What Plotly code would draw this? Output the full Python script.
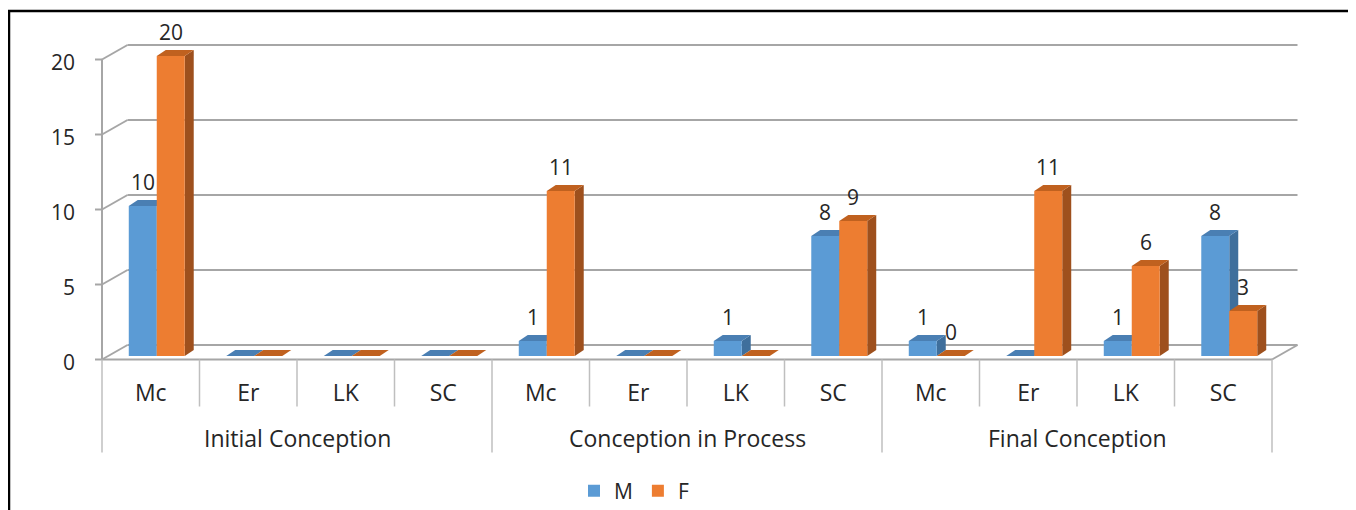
import plotly.graph_objects as go

# ---------------- data ----------------
groups = ["Initial Conception", "Conception in Process", "Final Conception"]
categories = ["Mc", "Er", "LK", "SC"]
series_names = ["M", "F"]
M = [10, 0, 0, 0, 1, 0, 1, 8, 1, 0, 1, 8]
F = [20, 0, 0, 0, 11, 0, 0, 9, 0, 11, 6, 3]
M_labels = ["10", "", "", "", "1", "", "1", "8", "1", "", "1", "8"]
F_labels = ["20", "", "", "", "11", "", "", "9", "0", "11", "6", "3"]
y_ticks = [0, 5, 10, 15, 20]

# ---------------- style / layout (figure pixels; page has an 8px body margin) ----------------
W, H = 1348, 502
N = len(groups) * len(categories)
UX = 97.5                # px per category
UY = 15.0                # px per value unit
BAR_L_PX = 100           # pixel of x = -0.5 in the bar plane
PL, PR = 82, 1297        # plot area (extended so the 3D frame is not clipped)
ML, MR = PL, W - PR
PLOT_W = PR - PL
BASE_PY = 348            # pixel row of value 0 in the bar plane
Y_LO = -(H - BASE_PY) / UY
Y_HI = BASE_PY / UY
XA = -0.5 - (BAR_L_PX - PL) / UX
XB = XA + PLOT_W / UX

FRONT_DX, FRONT_DY = -6, 3.5
BACK_DX, BACK_DY = 19.5, -11
DEPTH_DX, DEPTH_DY = 9, -6
BAR_W = 0.287

BLUE, ORANGE = "#5B9BD5", "#ED7D31"
BLUE_SIDE, ORANGE_SIDE = "#3F6F9C", "#9E501D"
BLUE_TOP, ORANGE_TOP = "#4A7FB3", "#C0611F"
GRID = "#A6A6A6"
DIV = "#BFBFBF"
TXT = "#262626"
FONT = "Open Sans"

colors = [(BLUE, BLUE_SIDE, BLUE_TOP), (ORANGE, ORANGE_SIDE, ORANGE_TOP)]


def X(xd, dpx=0.0):
    return xd + dpx / UX


def Y(yd, dpx=0.0):
    return yd - dpx / UY


def pxx(px):
    return (px - ML) / PLOT_W


def pxy(py):
    return (H - py) / H


x_left, x_right = -0.5, N - 0.5
shapes = []


def line(x0, y0, x1, y1, color=GRID, width=2):
    shapes.append(dict(type="line", xref="x", yref="y", x0=x0, y0=y0, x1=x1, y1=y1,
                       line=dict(color=color, width=width), layer="below"))


# back wall gridlines, side diagonals, tick marks
for v in y_ticks:
    line(X(x_left, BACK_DX), Y(v, BACK_DY), X(x_right, BACK_DX), Y(v, BACK_DY))
    line(X(x_left, FRONT_DX), Y(v, FRONT_DY), X(x_left, BACK_DX), Y(v, BACK_DY))
    line(X(x_left, FRONT_DX - 7), Y(v, FRONT_DY), X(x_left, FRONT_DX), Y(v, FRONT_DY))
# front vertical axis
line(X(x_left, FRONT_DX), Y(0, FRONT_DY), X(x_left, FRONT_DX), Y(max(y_ticks), FRONT_DY))
# floor front edge and right edge
line(X(x_left, FRONT_DX), Y(0, FRONT_DY), X(x_right, FRONT_DX), Y(0, FRONT_DY))
line(X(x_right, FRONT_DX), Y(0, FRONT_DY), X(x_right, BACK_DX), Y(0, BACK_DY))

# category dividers
for k in range(N + 1):
    long = (k % len(categories) == 0)
    depth = 93 if long else 47
    line(X(k - 0.5, FRONT_DX), Y(0, FRONT_DY), X(k - 0.5, FRONT_DX), Y(0, FRONT_DY + depth),
         color=DIV, width=1.5)


def poly(pts, color):
    d = "M " + " L ".join(f"{x},{y}" for x, y in pts) + " Z"
    shapes.append(dict(type="path", xref="x", yref="y", path=d,
                       fillcolor=color, line=dict(width=0), layer="below"))


annotations = []
series = [M, F]
labels = [M_labels, F_labels]
for s, vals in enumerate(series):
    front, side, top = colors[s]
    for i, v in enumerate(vals):
        xl = i - BAR_W + s * BAR_W
        xr = xl + BAR_W
        if v > 0:
            poly([(X(xr), Y(0)), (X(xr, DEPTH_DX), Y(0, DEPTH_DY)),
                  (X(xr, DEPTH_DX), Y(v, DEPTH_DY)), (X(xr), Y(v))], side)
        poly([(X(xl), Y(v)), (X(xr), Y(v)), (X(xr, DEPTH_DX), Y(v, DEPTH_DY)),
              (X(xl, DEPTH_DX), Y(v, DEPTH_DY))], top)
        if labels[s][i]:
            annotations.append(dict(x=(xl + xr) / 2, y=v, xref="x", yref="y",
                                    text=labels[s][i], showarrow=False, yshift=24,
                                    font=dict(family=FONT, size=21, color=TXT)))

for g, name in enumerate(groups):
    annotations.append(dict(x=g * len(categories) + (len(categories) - 1) / 2, y=Y(0, 82),
                            xref="x", yref="y", xshift=FRONT_DX, text=name, showarrow=False,
                            font=dict(family=FONT, size=23, color=TXT)))

# outer black frame
shapes.append(dict(type="rect", xref="paper", yref="paper", x0=pxx(1), x1=pxx(1345),
                   y0=pxy(515), y1=pxy(3), line=dict(color="black", width=2.5),
                   fillcolor="rgba(0,0,0,0)", layer="above"))

fig = go.Figure()
xs = list(range(N))
for s, vals in enumerate(series):
    fig.add_trace(go.Bar(x=xs, y=vals, name=series_names[s], width=BAR_W,
                         offset=-BAR_W + s * BAR_W, marker=dict(color=colors[s][0], line=dict(width=0)),
                         hoverinfo="y+name"))

fig.update_layout(
    width=W, height=H,
    margin=dict(l=ML, r=MR, t=0, b=0, autoexpand=False),
    paper_bgcolor="white", plot_bgcolor="white",
    barmode="overlay",
    showlegend=True,
    legend=dict(orientation="h", x=pxx(566), xanchor="left", y=pxy(483), yanchor="middle",
                font=dict(family=FONT, size=21, color=TXT), bgcolor="rgba(0,0,0,0)",
                itemwidth=30, tracegroupgap=0),
    font=dict(family=FONT, color=TXT),
    shapes=shapes,
    annotations=annotations,
    xaxis=dict(range=[XA, XB], anchor="free", position=pxy(BASE_PY + FRONT_DY),
               tickvals=xs, ticktext=categories * len(groups), ticks="",
               showgrid=False, zeroline=False, showline=False,
               ticklabelshift=int(FRONT_DX), ticklabelstandoff=17,
               tickfont=dict(family=FONT, size=23, color=TXT)),
    yaxis=dict(range=[Y_LO, Y_HI], tickvals=y_ticks, ticktext=[str(v) for v in y_ticks],
               ticks="", showgrid=False, zeroline=False, showline=False,
               ticklabelshift=7, ticklabelstandoff=14,
               tickfont=dict(family=FONT, size=21, color=TXT)),
)

fig.write_html("out.html", config={"displayModeBar": False})
